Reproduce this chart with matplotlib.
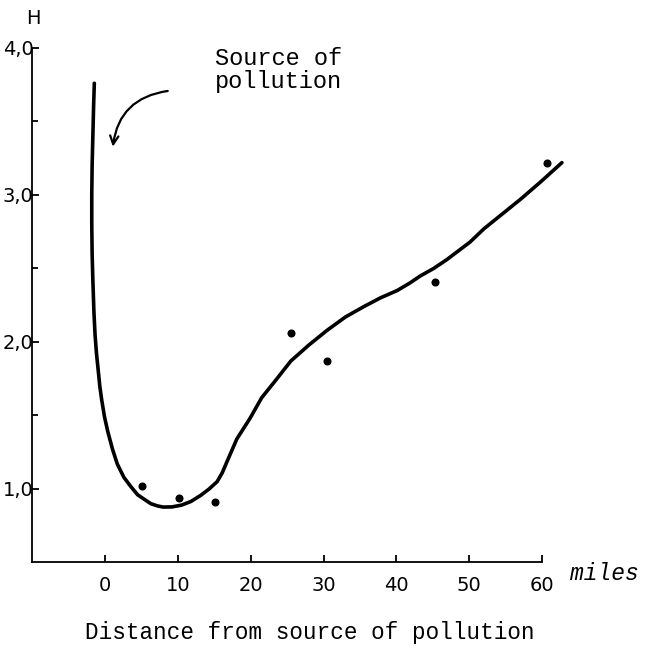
import matplotlib
matplotlib.use('Agg')
import matplotlib.pyplot as plt

# observed H values
dist_obs = [5.1, 10.2, 15.1, 25.5, 30.5, 45.3, 60.6]
h_obs = [1.02, 0.94, 0.91, 2.06, 1.87, 2.41, 3.22]

# hand drawn trend curve
curve_x = [-1.45, -1.55, -1.65, -1.75, -1.8, -1.8, -1.75, -1.65, -1.5, -1.35,
           -1.15, -0.9, -0.7, -0.45, -0.05, 0.4, 1.05, 1.7, 2.6, 3.5, 4.5, 5.4,
           6.3, 7.2, 8.0, 9.2, 10.5, 11.8, 13.1, 14.3, 15.4, 16.1, 16.7, 17.4,
           18.1, 19.0, 19.9, 21.5, 23.6, 25.5, 28.0, 30.5, 33.0, 35.5, 37.8,
           40.1, 41.8, 43.3, 45.1, 46.9, 48.5, 50.1, 52.0, 54.5, 57.0, 59.8, 62.7]
curve_y = [3.76, 3.6, 3.4, 3.2, 3.0, 2.8, 2.6, 2.42, 2.2, 2.05,
           1.92, 1.8, 1.7, 1.61, 1.49, 1.39, 1.27, 1.17, 1.08, 1.02, 0.96, 0.93,
           0.90, 0.885, 0.877, 0.878, 0.89, 0.915, 0.955, 1.0, 1.05, 1.11, 1.18, 1.26,
           1.34, 1.41, 1.48, 1.62, 1.75, 1.87, 1.98, 2.08, 2.17, 2.24, 2.30,
           2.35, 2.40, 2.45, 2.50, 2.56, 2.62, 2.68, 2.77, 2.87, 2.97, 3.09, 3.22]

xticks = [0, 10, 20, 30, 40, 50, 60]
yticks = [1.0, 2.0, 3.0, 4.0]
ytick_labels = ['1,0', '2,0', '3,0', '4,0']
yminor = [1.5, 2.5, 3.5]

fig = plt.figure(figsize=(6.45, 6.49), dpi=100)
ax = fig.add_axes([0.0496, 0.1333, 0.825, 0.7928])

ax.plot(curve_x, curve_y, color='black', lw=2.6, solid_capstyle='round',
        solid_joinstyle='round', clip_on=False)
ax.plot(dist_obs, h_obs, 'o', color='black', ms=4.8, clip_on=False)

ax.set_xlim(-10, 63)
ax.set_ylim(0.5, 4.0)
ax.spines['top'].set_visible(False)
ax.spines['right'].set_visible(False)
ax.spines['bottom'].set_bounds(-10, 60)
for s in ['left', 'bottom']:
    ax.spines[s].set_linewidth(1.3)

ax.set_xticks(xticks)
ax.set_xticklabels([str(t) for t in xticks])
ax.set_yticks(yticks)
ax.set_yticklabels(ytick_labels)
ax.set_yticks(yminor, minor=True)
ax.tick_params(axis='x', direction='in', length=5, width=1.3, pad=10, labelsize=14)
ax.tick_params(axis='y', direction='in', length=5, width=1.3, pad=-1, labelsize=14)
ax.tick_params(axis='y', which='minor', direction='in', length=4, width=1.3)

mono = 'Liberation Mono'
ax.text(23.8, 3.85, 'Source of\npollution', family=mono, fontsize=17,
        ha='center', va='center', linespacing=1.0)
ax.annotate('', xy=(1.05, 3.31), xytext=(9.0, 3.71),
            arrowprops=dict(arrowstyle='->,head_length=0.6,head_width=0.3',
                            connectionstyle='arc3,rad=0.4', lw=1.6, color='black'))

fig.text(33 / 645, 1 - 19 / 649, 'H', fontsize=14, ha='center', va='center')
fig.text(570 / 645, 1 - 574 / 649, 'miles', family=mono, style='italic',
         fontsize=16.5, ha='left', va='center')
fig.text(310 / 645, 1 - 632 / 649, 'Distance from source of pollution',
         family=mono, fontsize=16.3, ha='center', va='center')

fig.savefig('out.png', dpi=100)
